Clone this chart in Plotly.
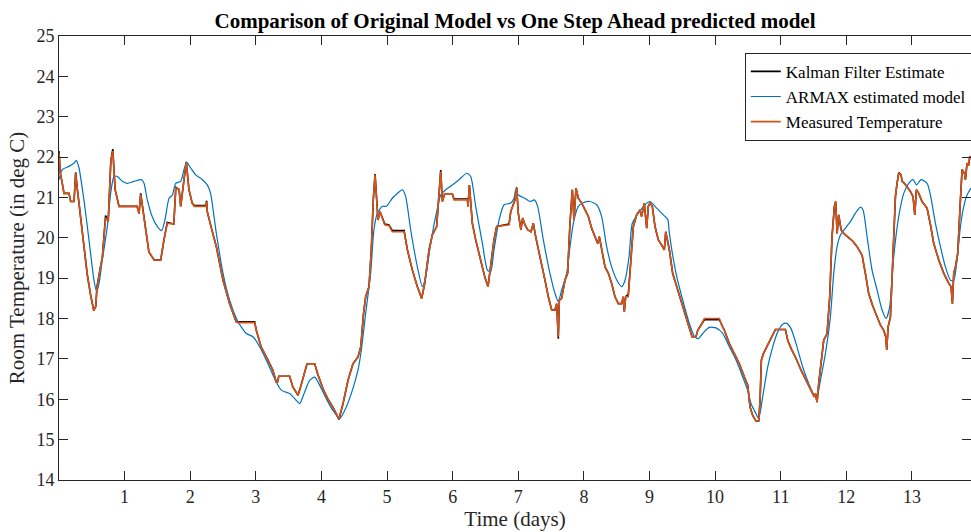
import plotly.graph_objects as go

# ---------------- data ----------------
meas_time = [
    0.0, 0.02, 0.05, 0.076, 0.152, 0.178, 0.229, 0.254, 0.28, 0.43, 0.48, 0.53, 0.56, 0.58, 0.635, 0.66,
    0.71, 0.75, 0.79, 0.82, 0.855, 0.89, 0.915, 1.19, 1.22, 1.245, 1.296, 1.35, 1.37, 1.45, 1.55, 1.6,
    1.65, 1.75, 1.78, 1.83, 1.855, 1.905, 1.94, 1.98, 2.03, 2.06, 2.24, 2.25, 2.26, 2.31,
    2.398, 2.5, 2.6, 2.7, 2.72, 2.982, 3.007, 3.08, 3.185, 3.26, 3.31, 3.33, 3.35, 3.515, 3.566, 3.643,
    3.69, 3.744, 3.78, 3.897, 3.948, 4.024, 4.1, 4.176, 4.267, 4.33, 4.405, 4.48, 4.557, 4.6,
    4.64, 4.674, 4.725, 4.76, 4.79, 4.817, 4.842, 4.862, 4.893, 4.928, 4.964, 5.03, 5.08, 5.26, 5.31,
    5.386, 5.462, 5.528, 5.574, 5.64, 5.69, 5.756, 5.792, 5.818, 5.843, 5.878, 5.995, 6.02, 6.224, 6.234,
    6.255, 6.3, 6.351, 6.427, 6.488, 6.539, 6.58, 6.63, 6.671, 6.86, 6.885, 6.935,
    6.95, 6.975, 7.0, 7.04, 7.067, 7.102, 7.143, 7.194, 7.229, 7.265, 7.305, 7.356, 7.407, 7.458, 7.509,
    7.56, 7.585, 7.61, 7.626, 7.661, 7.712, 7.752, 7.788, 7.824, 7.849, 7.88, 7.915, 7.966, 8.017, 8.068,
    8.118, 8.17, 8.21, 8.235, 8.27, 8.322, 8.373, 8.423, 8.474, 8.525, 8.576, 8.6, 8.616, 8.637, 8.677,
    8.718, 8.754, 8.804, 8.855, 8.88, 8.92, 8.957, 8.982, 9.007, 9.043, 9.084, 9.135, 9.186, 9.226, 9.247,
    9.277, 9.303, 9.353, 9.43, 9.506, 9.582, 9.648, 9.709, 9.735, 9.785, 9.836, 10.065, 10.09, 10.141,
    10.217, 10.293, 10.37, 10.446, 10.497, 10.532, 10.573, 10.624, 10.664, 10.685, 10.705, 10.736, 10.776,
    10.827, 10.878, 10.919, 11.071, 11.107, 11.157, 11.234, 11.31, 11.386, 11.462, 11.513,
    11.528, 11.554, 11.579, 11.615, 11.655, 11.706, 11.747, 11.782, 11.818, 11.838, 11.859, 11.884, 11.92,
    11.96, 12.037, 12.103, 12.164, 12.24, 12.29, 12.341, 12.407, 12.468, 12.519, 12.57, 12.6, 12.616,
    12.636, 12.672, 12.712, 12.748, 12.773, 12.799, 12.834, 12.85, 12.885, 12.925, 12.976, 13.017, 13.043,
    13.068, 13.104, 13.154, 13.231, 13.282, 13.332, 13.409, 13.485, 13.561, 13.596, 13.617, 13.637, 13.663,
    13.698, 13.739, 13.764, 13.8, 13.815, 13.84, 13.866, 13.88, 13.9,
]
meas_temp = [
    22.1, 21.6, 21.35, 21.1, 21.1, 20.9, 20.9, 21.6, 21.2, 19.1, 18.6, 18.2, 18.3, 18.8, 19.3, 19.5,
    20.5, 20.4, 21.9, 22.15, 21.2, 20.9, 20.78, 20.78, 20.6, 21.07, 20.5, 19.9, 19.65, 19.45, 19.45, 19.95,
    20.36, 20.34, 21.23, 21.2, 20.78, 21.44, 21.87, 21.2, 20.86, 20.78, 20.78, 20.9, 20.65, 20.32,
    19.78, 18.95, 18.37, 17.92, 17.9, 17.9, 17.71, 17.3, 16.97, 16.72, 16.43, 16.43, 16.57, 16.57, 16.3, 16.1,
    16.35, 16.64, 16.88, 16.88, 16.6, 16.26, 16.0, 15.8, 15.52, 15.9, 16.47, 16.88, 17.05, 17.3,
    18.1, 18.54, 18.79, 19.7, 20.94, 21.56, 20.78, 20.44, 20.65, 20.49, 20.32, 20.3, 20.15, 20.15, 19.7,
    19.2, 18.79, 18.5, 18.87, 19.7, 20.07, 20.28, 21.1, 21.64, 20.9, 21.09, 21.09, 20.94, 20.94, 20.78,
    21.31, 20.36, 19.95, 19.45, 19.04, 18.79, 19.28, 19.95, 20.28, 20.32, 20.65, 20.86,
    20.94, 21.23, 20.61, 20.2, 20.49, 20.32, 20.2, 20.15, 20.36, 20.03, 19.7, 19.28, 18.95, 18.54, 18.21,
    18.21, 18.37, 17.55, 18.46, 18.5, 18.95, 19.12, 20.36, 21.19, 20.44, 21.23, 20.98, 20.86, 20.69, 20.53,
    20.24, 20.03, 19.86, 20.03, 19.7, 19.28, 19.12, 18.87, 18.54, 18.37, 18.37, 18.54, 18.17, 18.54, 18.54,
    19.53, 20.28, 20.57, 20.69, 20.53, 20.86, 20.24, 20.78, 20.86, 20.78, 20.28, 19.95, 19.82, 19.7, 20.15,
    19.95, 19.7, 19.12, 18.71, 18.29, 17.92, 17.55, 17.55, 17.71, 17.84, 18.0, 18.0, 17.88, 17.71,
    17.38, 17.13, 16.88, 16.55, 16.35, 15.81, 15.6, 15.46, 15.46, 15.97, 16.97, 17.13, 17.26,
    17.42, 17.59, 17.73, 17.73, 17.46, 17.26, 17.01, 16.72, 16.47, 16.22, 16.06,
    16.14, 15.93, 16.39, 16.97, 17.46, 17.63, 18.54, 20.03, 20.78, 20.9, 20.11, 20.57, 20.2,
    20.11, 19.99, 19.91, 19.78, 19.57, 19.12, 18.62, 18.29, 18.04, 17.84, 17.71, 17.55, 17.22,
    17.79, 18.04, 19.53, 21.02, 21.35, 21.6, 21.56, 21.4, 21.35, 21.27, 21.15, 21.02, 20.57,
    21.19, 21.1, 20.9, 20.73, 20.32, 19.86, 19.45, 19.12, 18.87, 18.79, 18.37, 19.12, 19.28,
    19.62, 20.94, 21.69, 21.6, 21.44, 21.85, 21.8, 22.0, 22.0,
]
kalman_temp = [
    22.15, 21.6, 21.35, 21.1, 21.1, 20.9, 20.9, 21.62, 21.2, 19.1, 18.6, 18.2, 18.3, 18.8, 19.3, 19.5,
    20.55, 20.4, 21.9, 22.2, 21.2, 20.9, 20.78, 20.78, 20.6, 21.1, 20.5, 19.9, 19.65, 19.45, 19.45, 19.95,
    20.38, 20.34, 21.25, 21.2, 20.78, 21.44, 21.88, 21.2, 20.86, 20.8, 20.8, 20.92, 20.65, 20.32,
    19.78, 18.95, 18.37, 17.92, 17.92, 17.92, 17.71, 17.3, 16.97, 16.72, 16.43, 16.43, 16.57, 16.57, 16.3, 16.1,
    16.35, 16.64, 16.88, 16.88, 16.6, 16.26, 16.0, 15.8, 15.5, 15.9, 16.47, 16.88, 17.05, 17.3,
    18.1, 18.54, 18.79, 19.7, 20.94, 21.58, 20.78, 20.44, 20.65, 20.49, 20.34, 20.32, 20.18, 20.18, 19.7,
    19.2, 18.79, 18.5, 18.87, 19.7, 20.07, 20.28, 21.1, 21.68, 20.9, 21.09, 21.09, 20.96, 20.96, 20.78,
    21.31, 20.36, 19.95, 19.45, 19.04, 18.79, 19.28, 19.95, 20.28, 20.34, 20.65, 20.86,
    20.94, 21.25, 20.61, 20.2, 20.49, 20.32, 20.2, 20.15, 20.36, 20.03, 19.7, 19.28, 18.95, 18.54, 18.21,
    18.21, 18.37, 17.5, 18.46, 18.5, 18.95, 19.12, 20.36, 21.19, 20.44, 21.23, 20.98, 20.86, 20.69, 20.53,
    20.24, 20.03, 19.86, 20.03, 19.7, 19.28, 19.12, 18.87, 18.54, 18.37, 18.37, 18.54, 18.17, 18.54, 18.6,
    19.53, 20.28, 20.57, 20.69, 20.53, 20.86, 20.24, 20.78, 20.86, 20.78, 20.28, 19.95, 19.82, 19.7, 20.15,
    19.95, 19.7, 19.12, 18.71, 18.29, 17.92, 17.55, 17.55, 17.71, 17.84, 17.97, 17.97, 17.88, 17.71,
    17.38, 17.13, 16.88, 16.55, 16.35, 15.81, 15.6, 15.46, 15.46, 15.97, 16.97, 17.13, 17.26,
    17.42, 17.59, 17.73, 17.73, 17.46, 17.26, 17.01, 16.72, 16.47, 16.22, 16.06,
    16.14, 15.93, 16.39, 16.97, 17.46, 17.63, 18.54, 20.03, 20.78, 20.9, 20.11, 20.57, 20.2,
    20.11, 19.99, 19.91, 19.78, 19.57, 19.12, 18.62, 18.29, 18.04, 17.84, 17.71, 17.55, 17.22,
    17.79, 18.04, 19.53, 21.02, 21.35, 21.62, 21.56, 21.4, 21.35, 21.27, 21.15, 21.02, 20.57,
    21.19, 21.1, 20.9, 20.73, 20.32, 19.86, 19.45, 19.12, 18.87, 18.79, 18.37, 19.12, 19.28,
    19.62, 20.94, 21.69, 21.6, 21.44, 21.85, 21.8, 22.0, 22.0,
]

armax_time = [
    0.0, 0.05, 0.152, 0.229, 0.264, 0.305, 0.38, 0.457, 0.533, 0.574, 0.61, 0.66, 0.737, 0.787, 0.838,
    0.889, 0.965, 1.04, 1.143, 1.26, 1.296, 1.346, 1.42, 1.5, 1.565, 1.616, 1.677, 1.728, 1.778, 1.855,
    1.905, 1.946, 2.007, 2.083, 2.185, 2.26, 2.31,
    2.398, 2.5, 2.6, 2.728, 2.855, 2.957, 3.058, 3.185, 3.31, 3.39, 3.515, 3.617, 3.668, 3.744, 3.82,
    3.897, 3.973, 4.075, 4.176, 4.278, 4.354, 4.455, 4.557,
    4.608, 4.674, 4.75, 4.8, 4.852, 4.928, 4.99, 5.08, 5.157, 5.233, 5.284, 5.36, 5.462, 5.538, 5.589,
    5.665, 5.741, 5.818, 5.894, 5.995, 6.097, 6.214, 6.275, 6.351, 6.453, 6.529, 6.58, 6.63, 6.707, 6.783,
    6.885, 6.935, 6.96, 7.0, 7.102, 7.178, 7.245, 7.295, 7.382, 7.483, 7.56, 7.61, 7.661, 7.737, 7.788,
    7.839, 7.915, 7.991, 8.093, 8.195, 8.27, 8.347, 8.423, 8.515, 8.576, 8.627, 8.688, 8.738, 8.83, 8.931,
    9.007, 9.084, 9.16, 9.236, 9.28, 9.303, 9.404, 9.506, 9.607, 9.684, 9.745, 9.811, 9.912, 10.014,
    10.116, 10.217, 10.319, 10.421, 10.497, 10.548, 10.624, 10.664, 10.725, 10.802, 10.878, 10.954, 11.03,
    11.091, 11.157, 11.234, 11.335, 11.437, 11.513, 11.564, 11.605, 11.681, 11.757, 11.808, 11.859, 11.91,
    11.986, 12.062, 12.138, 12.214, 12.255, 12.316, 12.392, 12.468, 12.545, 12.606, 12.661, 12.722, 12.799,
    12.875, 12.951, 13.017, 13.068, 13.139, 13.231, 13.282, 13.358, 13.434, 13.51, 13.587, 13.637, 13.688,
    13.739, 13.79, 13.84, 13.9,
]
armax_temp = [
    21.44, 21.69, 21.77, 21.85, 21.92, 21.73, 20.94, 19.95, 18.95, 18.66, 18.87, 19.45, 20.28, 21.1, 21.52,
    21.52, 21.4, 21.35, 21.4, 21.44, 21.35, 20.94, 20.53, 20.28, 20.18, 20.45, 20.98, 21.06, 21.35, 21.4,
    21.69, 21.87, 21.73, 21.56, 21.44, 21.31, 21.1,
    20.11, 19.12, 18.46, 17.92, 17.63, 17.55, 17.3, 16.88, 16.43, 16.22, 16.14, 15.97, 15.89, 16.18, 16.47,
    16.55, 16.35, 16.01, 15.72, 15.52, 15.72, 16.14, 16.72,
    17.22, 18.13, 19.12, 20.2, 20.61, 20.78, 20.78, 20.98, 21.1, 21.19, 21.02, 20.2, 19.28, 18.79, 19.04,
    19.86, 20.53, 21.06, 21.19, 21.31, 21.44, 21.6, 21.52, 20.78, 19.86, 19.2, 19.16, 19.7, 20.44, 20.82,
    20.86, 20.98, 21.19, 21.06, 20.98, 20.9, 20.94, 20.78, 19.95, 19.12, 18.62, 18.42, 18.71, 19.12, 19.78,
    20.36, 20.78, 20.87, 20.9, 20.82, 20.53, 19.78, 19.28, 18.91, 18.79, 18.95, 19.53, 20.36, 20.61, 20.82,
    20.9, 20.78, 20.65, 20.53, 20.45, 20.11, 19.12, 18.46, 17.88, 17.56, 17.5, 17.63, 17.78, 17.77,
    17.63, 17.3, 16.97, 16.55, 16.22, 15.89, 15.64, 15.52, 16.06, 16.8, 17.3, 17.67, 17.86,
    17.88, 17.75, 17.38, 16.8, 16.35, 16.1, 16.14, 16.47, 17.13, 18.04, 19.12, 19.78, 20.07,
    20.24, 20.4, 20.61, 20.76, 20.69, 20.03, 19.2, 18.71, 18.21, 18.0, 18.29, 19.53, 20.53,
    21.1, 21.35, 21.44, 21.31, 21.44, 21.35, 21.06, 20.36, 19.78, 19.28, 18.95, 18.95, 19.45,
    20.28, 20.78, 21.06, 21.23,
]

series_names = ["Kalman Filter Estimate", "ARMAX estimated model", "Measured Temperature"]
x_ticks = list(range(1, 14))
y_ticks = list(range(14, 26))

# ---------------- figure ----------------
FONT = "Liberation Serif, Times New Roman, serif"
AX = "#262626"

fig = go.Figure()
fig.add_trace(go.Scatter(x=meas_time, y=kalman_temp, mode="lines", name=series_names[0],
                         line=dict(color="#000000", width=1.6)))
fig.add_trace(go.Scatter(x=armax_time, y=armax_temp, mode="lines", name=series_names[1],
                         line=dict(color="#0072BD", width=1.2, shape="spline", smoothing=0.6)))
fig.add_trace(go.Scatter(x=meas_time, y=meas_temp, mode="lines", name=series_names[2],
                         line=dict(color="#D95319", width=1.6)))

axis_common = dict(
    showgrid=False, zeroline=False, showline=True, linecolor=AX, linewidth=1,
    mirror="ticks", ticks="inside", ticklen=9, tickcolor=AX, tickwidth=1,
    tickfont=dict(family=FONT, size=18, color=AX), automargin=False,
)

fig.update_layout(
    width=971, height=532,
    margin=dict(l=59, r=0, t=36, b=52, autoexpand=False),
    paper_bgcolor="white", plot_bgcolor="white",
    font=dict(family=FONT, color=AX),
    title=dict(text="<b>Comparison of Original Model vs One Step Ahead predicted model</b>",
               x=0.5304, xanchor="center", y=1 - 21 / 532, yanchor="middle",
               font=dict(family=FONT, size=21, color="#000000")),
    xaxis=dict(range=[0, 13.9], tickvals=x_ticks,
               title=dict(text="Time (days)", font=dict(family=FONT, size=21, color=AX), standoff=4),
               **axis_common),
    yaxis=dict(range=[14, 25], tickvals=y_ticks,
               title=dict(text="Room Temperature (in deg C)", font=dict(family=FONT, size=21, color=AX),
                          standoff=6),
               **axis_common),
    legend=dict(x=0.752, y=0.962, xanchor="left", yanchor="top",
                bgcolor="white", bordercolor=AX, borderwidth=1,
                font=dict(family=FONT, size=17, color="#000000"),
                tracegroupgap=0, itemwidth=30),
    showlegend=True,
)

fig.write_html("out.html")
